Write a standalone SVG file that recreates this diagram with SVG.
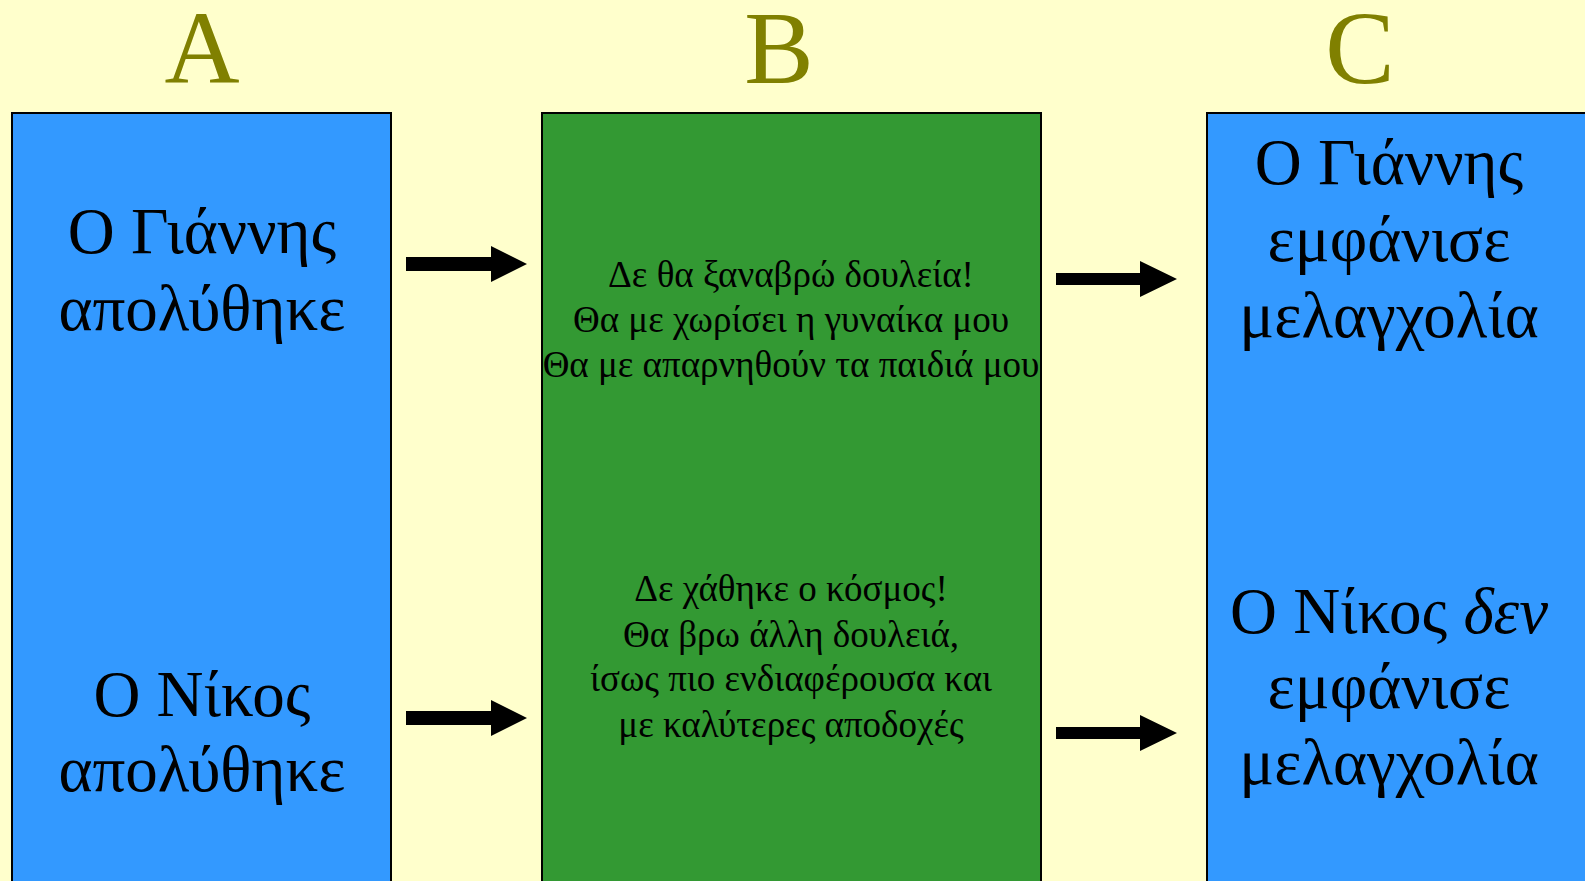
<svg xmlns="http://www.w3.org/2000/svg" width="1585" height="881" viewBox="0 0 1585 881">
  <defs>
    <style>
      .title { font-family: "Liberation Serif", "Times New Roman", serif; font-size: 104px; fill: #808000; text-anchor: middle; }
      .big { font-family: "Liberation Serif", "Times New Roman", serif; font-size: 65px; fill: #000; text-anchor: middle; }
      .small { font-family: "Liberation Serif", "Times New Roman", serif; font-size: 37px; fill: #000; text-anchor: middle; }
      .blue { fill: #3399FF; stroke: #000; stroke-width: 2; }
      .green { fill: #339933; stroke: #000; stroke-width: 2; }
      .arrow { fill: #000; }
    </style>
  </defs>
  <rect width="1585" height="881" fill="#FFFFCC"/>

  <!-- column headings -->
  <text class="title" x="202" y="83">A</text>
  <text class="title" x="779" y="83">B</text>
  <text class="title" x="1360" y="83">C</text>

  <g id="node-a">
    <rect class="blue" x="12" y="113" width="379" height="790"/>
    <text class="big" x="202" y="253">Ο Γιάννης</text>
    <text class="big" x="202" y="330">απολύθηκε</text>
    <text class="big" x="202" y="716">Ο Νίκος</text>
    <text class="big" x="202" y="791">απολύθηκε</text>
  </g>

  <g id="node-b">
    <rect class="green" x="542" y="113" width="499" height="790"/>
    <text class="small" x="791" y="287">Δε θα ξαναβρώ δουλεία!</text>
    <text class="small" x="791" y="332">Θα με χωρίσει η γυναίκα μου</text>
    <text class="small" x="791" y="377">Θα με απαρνηθούν τα παιδιά μου</text>
    <text class="small" x="791" y="601">Δε χάθηκε ο κόσμος!</text>
    <text class="small" x="791" y="647">Θα βρω άλλη δουλειά,</text>
    <text class="small" x="791" y="691">ίσως πιο ενδιαφέρουσα και</text>
    <text class="small" x="791" y="737">με καλύτερες αποδοχές</text>
  </g>

  <g id="node-c">
    <rect class="blue" x="1207" y="113" width="400" height="790"/>
    <text class="big" x="1389" y="184">Ο Γιάννης</text>
    <text class="big" x="1389" y="261">εμφάνισε</text>
    <text class="big" x="1389" y="337">μελαγχολία</text>
    <text class="big" x="1389" y="633">Ο Νίκος <tspan font-style="italic">δεν</tspan></text>
    <text class="big" x="1389" y="708">εμφάνισε</text>
    <text class="big" x="1389" y="784">μελαγχολία</text>
  </g>

  <g id="connectors">
    <path class="arrow" d="M406,257 H491 V246 L527,264 L491,282 V271 H406 Z"/>
    <path class="arrow" d="M406,711 H491 V700 L527,718 L491,736 V725 H406 Z"/>
    <path class="arrow" d="M1056,273 H1140 V261 L1177,279 L1140,297 V285 H1056 Z"/>
    <path class="arrow" d="M1056,727 H1140 V715 L1177,733 L1140,751 V739 H1056 Z"/>
  </g>
</svg>
